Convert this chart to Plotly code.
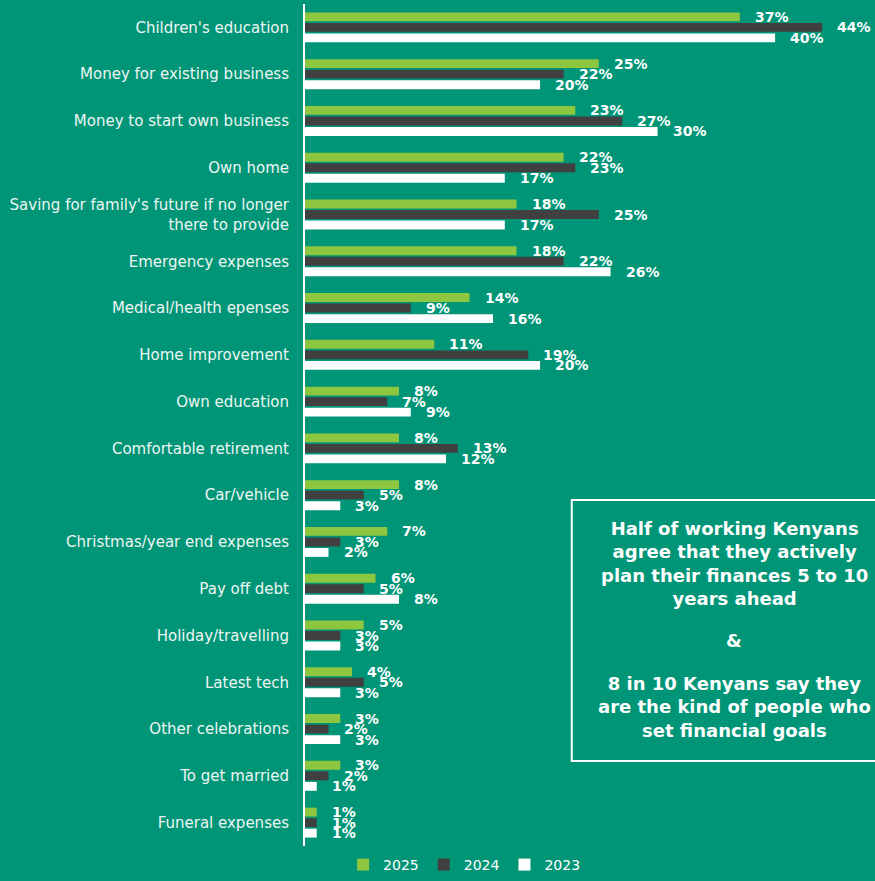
import numpy as np
import plotly.graph_objects as go

# Savings goals, share of respondents (%) by survey year
categories = [
    "Children's education",
    "Money for existing business",
    "Money to start own business",
    "Own home",
    "Saving for family's future if no longer<br>there to provide",
    "Emergency expenses",
    "Medical/health epenses",
    "Home improvement",
    "Own education",
    "Comfortable retirement",
    "Car/vehicle",
    "Christmas/year end expenses",
    "Pay off debt",
    "Holiday/travelling",
    "Latest tech",
    "Other celebrations",
    "To get married",
    "Funeral expenses",
]
values_2025 = [37, 25, 23, 22, 18, 18, 14, 11, 8, 8, 8, 7, 6, 5, 4, 3, 3, 1]
values_2024 = [44, 22, 27, 23, 25, 22, 9, 19, 7, 13, 5, 3, 5, 3, 5, 2, 2, 1]
values_2023 = [40, 20, 30, 17, 17, 26, 16, 20, 9, 12, 3, 2, 8, 3, 3, 3, 1, 1]
years = ["2025", "2024", "2023"]

# Call-out text, in three blocks
callout_blocks = [
    "Half of working Kenyans<br>agree that they actively<br>"
    "plan their finances 5 to 10<br>years ahead",
    "&",
    "8 in 10 Kenyans say they<br>are the kind of people who<br>set financial goals",
]

BG = "#009577"
COLORS = ["#8dc63f", "#404040", "#ffffff"]
FONT = "DejaVu Sans"

series = [values_2025, values_2024, values_2023]
offsets = [-0.225, 0.0, 0.225]
bar_width = 0.19
idx = np.arange(len(categories))

fig = go.Figure()
annotations = []
for name, vals, color, off in zip(years, series, COLORS, offsets):
    ypos = idx + off
    fig.add_trace(go.Bar(
        x=vals, y=ypos, orientation="h", name=name,
        width=bar_width, marker=dict(color=color, line=dict(width=0)),
        hoverinfo="x+name",
    ))
    for v, yy in zip(vals, ypos):
        annotations.append(dict(
            x=v, y=yy, xref="x", yref="y", text=f"{v}%",
            showarrow=False, xanchor="left", yanchor="middle", xshift=13,
            font=dict(family=FONT, size=14, color="white", weight="bold"),
        ))

for text, ypaper in zip(callout_blocks, [0.3355, 0.2435, 0.1651]):
    annotations.append(dict(
        x=0.753, y=ypaper, xref="paper", yref="paper", text=text,
        showarrow=False, xanchor="center", yanchor="middle", align="center",
        font=dict(family=FONT, size=18, color="white", weight="bold"),
    ))

fig.add_shape(
    type="rect", xref="paper", yref="paper",
    x0=0.468, x1=1.02, y0=0.101, y1=0.411,
    line=dict(color="white", width=2), fillcolor="rgba(0,0,0,0)",
)

fig.update_layout(
    width=875, height=881,
    margin=dict(l=305, r=0, t=4, b=35),
    paper_bgcolor=BG, plot_bgcolor=BG,
    barmode="overlay",
    showlegend=True,
    legend=dict(
        orientation="h", x=0.28, y=-0.0416, xanchor="center", yanchor="bottom",
        font=dict(family=FONT, size=14, color="white"),
        itemwidth=30, bgcolor="rgba(0,0,0,0)",
    ),
    annotations=annotations,
    xaxis=dict(
        range=[0, 48.5], showgrid=False, zeroline=False,
        showticklabels=False, fixedrange=True,
    ),
    yaxis=dict(
        range=[len(categories) - 0.5, -0.5],
        tickvals=idx, ticktext=categories,
        showgrid=False, zeroline=False,
        showline=True, linecolor="white", linewidth=2,
        ticks="", ticklabelstandoff=11,
        tickfont=dict(family=FONT, size=15, color="#eef6f3"),
    ),
    font=dict(family=FONT),
)

fig.write_html("out.html")
